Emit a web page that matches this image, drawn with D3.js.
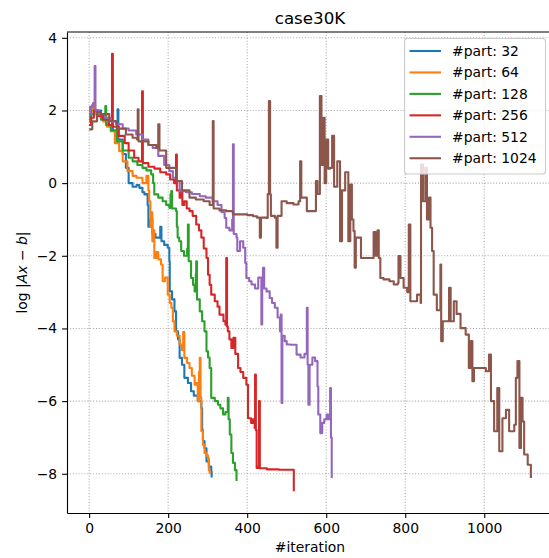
<!DOCTYPE html>
<html>
<head>
<meta charset="utf-8">
<script src="https://cdn.jsdelivr.net/npm/d3@7"></script>
<style>
  body { margin: 0; background: #fff; }
  text { font-family: "DejaVu Sans", sans-serif; fill: #000; }
</style>
</head>
<body>
<svg id="chart" width="549" height="558"></svg>
<script>
// Series labels and colours (matplotlib tab10)
var parts = ["32", "64", "128", "256", "512", "1024"];
var colors = ["#1f77b4", "#ff7f0e", "#2ca02c", "#d62728", "#9467bd", "#8c564b"];

var xTicks = [0, 200, 400, 600, 800, 1000];
var yTicks = [-8, -6, -4, -2, 0, 2, 4];

// [iteration, log|Ax-b|]
var part32 = [[0,1.75],[3,2.1],[8,2.15],[12,1.9],[20,2.0],[30,1.75],[45,1.6],[60,1.45],[70,1.3],[72,2.03],[74,1.2],[85,0.8],[93,0.42],[100,0.0],[110,-0.1],[120,-0.05],[127,-0.13],[135,-0.25],[140,-0.31],[145,-0.3],[148,-0.6],[150,-1.2],[155,-1.0],[160,-1.4],[168,-1.5],[174,-1.5],[180,-1.2],[183,-1.6],[190,-1.7],[199,-1.78],[203,-2.15],[204,-2.98],[210,-3.2],[216,-3.53],[220,-4.08],[225,-4.3],[229,-4.81],[235,-5.0],[241,-5.36],[250,-5.5],[258,-5.73],[265,-5.85],[275,-6.0],[284,-6.19],[286,-6.8],[288,-7.1],[292,-7.3],[297,-7.66],[303,-7.8],[309,-7.93],[310,-8.1]];

var part64 = [[0,1.6],[5,2.0],[10,2.2],[15,1.9],[25,1.85],[35,1.7],[45,1.55],[55,1.43],[65,1.1],[76,0.88],[85,0.6],[97,0.33],[110,0.2],[120,0.15],[135,0.0],[145,0.2],[150,-0.2],[152,-0.5],[155,-1.2],[158,-0.8],[160,-1.6],[163,-1.3],[165,-2.06],[170,-1.9],[175,-2.1],[182,-2.24],[186,-2.7],[192,-2.6],[199,-3.07],[204,-3.3],[208,-3.43],[212,-3.8],[216,-4.08],[222,-4.2],[229,-4.44],[235,-4.6],[238,-4.1],[241,-4.81],[248,-4.95],[254,-5.09],[260,-5.3],[267,-5.55],[272,-5.5],[275,-6.0],[278,-5.2],[280,-4.81],[282,-5.9],[284,-6.83],[288,-7.2],[292,-7.43],[296,-7.5],[301,-7.57],[303,-7.9],[305,-8.0]];

var part128 = [[0,1.7],[5,1.9],[12,2.0],[20,1.85],[30,1.75],[41,2.12],[43,1.6],[55,1.45],[70,1.15],[85,0.9],[100,0.7],[110,0.6],[122,0.5],[135,0.42],[145,0.35],[157,0.24],[162,0.0],[165,-0.31],[175,-0.4],[186,-0.5],[195,-0.6],[203,-0.68],[206,-0.3],[208,-0.22],[210,-0.7],[220,-0.77],[222,-1.2],[224,-1.5],[228,-1.6],[233,-1.87],[240,-2.0],[248,-1.8],[250,-1.14],[252,-2.15],[258,-2.61],[263,-2.8],[267,-2.98],[270,-2.5],[271,-2.15],[273,-3.2],[280,-3.53],[286,-3.8],[292,-4.08],[297,-4.63],[301,-4.8],[305,-5.09],[309,-5.91],[318,-6.0],[326,-6.1],[332,-6.2],[339,-6.37],[345,-6.3],[351,-5.91],[353,-6.5],[356,-6.92],[360,-7.43],[364,-7.7],[369,-7.9],[373,-8.2]];

var part256 = [[0,1.6],[5,1.8],[12,2.0],[20,1.85],[35,1.75],[50,1.6],[57,1.6],[58,3.56],[60,1.55],[75,1.3],[90,1.1],[100,0.9],[114,0.7],[125,0.6],[133,0.6],[134,2.53],[136,0.55],[150,0.45],[165,0.4],[180,0.3],[195,0.24],[205,0.1],[215,0.0],[220,0.79],[222,-0.2],[229,-0.4],[233,-0.2],[236,-0.6],[241,-0.5],[247,-0.7],[254,-0.77],[262,-0.9],[271,-1.14],[278,-1.3],[284,-1.5],[290,-1.8],[297,-2.06],[301,-2.52],[305,-2.8],[309,-3.07],[318,-3.25],[325,-3.4],[330,-3.62],[340,-3.8],[345,-3.9],[347,-2.06],[349,-3.95],[351,-4.08],[355,-4.3],[360,-4.54],[365,-4.26],[370,-4.7],[377,-5.09],[383,-5.2],[390,-5.36],[398,-5.55],[402,-6.47],[410,-6.6],[415,-6.5],[419,-6.74],[420,-5.27],[422,-6.8],[424,-7.84],[428,-7.8],[430,-6.0],[432,-7.85],[450,-7.88],[480,-7.89],[517,-7.89],[518,-8.48]];

var part512 = [[0,1.9],[5,2.1],[10,2.2],[14,3.22],[16,2.0],[25,1.9],[40,1.8],[55,1.7],[68,1.62],[85,1.5],[100,1.45],[119,1.34],[135,1.2],[150,1.05],[161,0.97],[175,0.75],[190,0.5],[203,0.33],[212,0.15],[220,0.06],[229,-0.22],[245,-0.25],[260,-0.3],[280,-0.36],[295,-0.4],[313,-0.5],[325,-0.6],[335,-0.8],[343,-0.96],[347,-1.23],[355,-1.3],[362,-1.0],[364,1.07],[366,-1.4],[373,-1.5],[375,-1.87],[382,-1.6],[390,-1.78],[395,-2.2],[398,-2.61],[405,-2.7],[411,-2.79],[420,-2.9],[428,-2.6],[436,-3.89],[438,-2.7],[440,-2.33],[443,-2.9],[449,-2.98],[457,-3.16],[463,-3.3],[470,-3.43],[477,-3.7],[483,-4.08],[485,-3.62],[487,-6.05],[489,-4.2],[495,-4.35],[500,-4.44],[510,-4.45],[525,-4.72],[535,-4.8],[545,-4.7],[551,-3.43],[553,-5.0],[555,-6.1],[558,-5.0],[565,-4.8],[572,-4.9],[578,-5.6],[580,-6.37],[585,-6.88],[590,-6.6],[595,-6.5],[601,-6.37],[605,-6.5],[610,-5.64],[612,-7.0],[614,-8.12]];

var part1024 = [[0,1.48],[8,1.7],[20,1.95],[30,1.9],[51,1.71],[70,1.5],[93,1.34],[110,1.25],[121,1.2],[123,2.03],[125,1.15],[150,1.05],[170,0.97],[175,1.62],[178,0.9],[195,0.42],[220,0.06],[235,-0.2],[254,-0.4],[270,-0.45],[290,-0.5],[305,-0.6],[313,1.71],[315,-0.7],[330,-0.75],[347,-0.77],[364,-0.86],[381,-0.86],[400,-0.88],[415,-0.91],[425,-0.95],[432,-1.5],[435,-0.95],[449,-0.96],[452,-0.3],[455,2.26],[458,-0.31],[460,-0.9],[470,-0.95],[474,-1.78],[477,-0.9],[487,-0.5],[500,-0.55],[517,-0.59],[530,-0.5],[534,0.6],[537,-0.4],[551,-0.77],[568,-0.77],[574,0.06],[578,-0.3],[584,2.4],[588,0.5],[592,1.8],[596,0.0],[600,1.2],[605,0.4],[610,0.42],[615,1.3],[620,-0.1],[628,0.6],[635,-1.6],[640,-0.2],[648,0.3],[656,-1.6],[661,-0.04],[665,-1.0],[669,-1.32],[672,-2.33],[675,-1.5],[686,-1.5],[688,-2.06],[700,-2.06],[716,-2.06],[720,-1.35],[725,-2.0],[730,-1.3],[733,-2.06],[737,-2.61],[745,-2.65],[760,-2.7],[771,-2.79],[781,-2.75],[783,-2.01],[788,-2.61],[796,-2.88],[805,-3.0],[809,-1.14],[813,-3.25],[830,-3.07],[839,-3.3],[840,0.51],[845,-0.5],[851,0.42],[855,-1.0],[860,-0.4],[864,-1.23],[868,-1.87],[872,-3.07],[880,-3.5],[889,-2.24],[891,-4.35],[895,-3.8],[906,-3.8],[911,-2.88],[915,-3.8],[923,-3.25],[930,-3.6],[940,-3.99],[953,-4.17],[961,-5.09],[966,-4.35],[970,-5.45],[974,-5.09],[991,-5.09],[1004,-5.18],[1012,-4.72],[1017,-6.0],[1025,-6.83],[1033,-5.64],[1038,-7.38],[1046,-6.47],[1055,-6.24],[1063,-6.83],[1076,-6.65],[1080,-5.36],[1084,-4.9],[1089,-7.29],[1093,-5.91],[1097,-6.56],[1101,-7.47],[1110,-7.75],[1118,-8.12]];

var series = [part32, part64, part128, part256, part512, part1024];

// Layout (axes box runs past the right edge of the picture)
var margin = { left: 67, top: 32, right: 553, bottom: 513 };

var svg = d3.select("#chart");

var xScale = d3.scaleLinear().domain([-56, 1174]).range([margin.left, margin.right]);
var yScale = d3.scaleLinear().domain([-9.08, 4.16]).range([margin.bottom, margin.top]);

svg.append("defs").append("clipPath").attr("id", "plotclip")
  .append("rect")
  .attr("x", margin.left).attr("y", margin.top)
  .attr("width", margin.right - margin.left).attr("height", margin.bottom - margin.top);

// Grid
var grid = svg.append("g").attr("stroke", "#b0b0b0").attr("stroke-width", 1.1).attr("stroke-dasharray", "1.1,1.8");
xTicks.forEach(function (t) {
  grid.append("line").attr("x1", xScale(t)).attr("x2", xScale(t)).attr("y1", margin.top).attr("y2", margin.bottom);
});
yTicks.forEach(function (t) {
  grid.append("line").attr("x1", margin.left).attr("x2", margin.right).attr("y1", yScale(t)).attr("y2", yScale(t));
});

// Lines (residual stays flat until the next update, so draw as steps)
var line = d3.line()
  .x(function (d) { return xScale(d[0]); })
  .y(function (d) { return yScale(d[1]); })
  .curve(d3.curveStepAfter);

var plot = svg.append("g").attr("clip-path", "url(#plotclip)");
series.forEach(function (s, i) {
  plot.append("path")
    .attr("fill", "none")
    .attr("stroke", colors[i])
    .attr("stroke-width", 2.1)
    .attr("stroke-linejoin", "round")
    .attr("d", line(s));
});

// Axes
var fmt = function (d) { return d < 0 ? "\u2212" + Math.abs(d) : d; };

var xAxis = svg.append("g")
  .attr("transform", `translate(0,${margin.bottom})`)
  .call(d3.axisBottom(xScale).tickValues(xTicks).tickFormat(fmt).tickSize(4.9).tickPadding(4.9).tickSizeOuter(0));

var yAxis = svg.append("g")
  .attr("transform", `translate(${margin.left},0)`)
  .call(d3.axisLeft(yScale).tickValues(yTicks).tickFormat(fmt).tickSize(4.9).tickPadding(4.9).tickSizeOuter(0));

[xAxis, yAxis].forEach(function (ax) {
  ax.selectAll("text").style("font-family", "DejaVu Sans").style("font-size", "13.9px").attr("fill", "#000");
  ax.selectAll("line").attr("stroke", "#000").attr("stroke-width", 1.1);
  ax.select(".domain").attr("stroke", "#000").attr("stroke-width", 1.1);
});

// top spine
svg.append("line")
  .attr("x1", margin.left).attr("x2", margin.right)
  .attr("y1", margin.top).attr("y2", margin.top)
  .attr("stroke", "#000").attr("stroke-width", 1.1);

// Title and axis labels
svg.append("text")
  .attr("x", (margin.left + margin.right) / 2)
  .attr("y", 23.5)
  .attr("text-anchor", "middle")
  .style("font-size", "16.7px")
  .text("case30K");

svg.append("text")
  .attr("x", (margin.left + margin.right) / 2)
  .attr("y", 552)
  .attr("text-anchor", "middle")
  .style("font-size", "13.9px")
  .text("#iteration");

var ylab = svg.append("text")
  .attr("transform", `translate(27,${(margin.top + margin.bottom) / 2}) rotate(-90)`)
  .attr("text-anchor", "middle")
  .style("font-size", "13.9px");
ylab.append("tspan").text("log |");
ylab.append("tspan").style("font-style", "italic").text("Ax");
ylab.append("tspan").text(" \u2212 ");
ylab.append("tspan").style("font-style", "italic").text("b");
ylab.append("tspan").text("|");

// Legend
var legend = svg.append("g");
legend.append("rect")
  .attr("x", 404.5).attr("y", 38.5)
  .attr("width", 141).attr("height", 135.5)
  .attr("rx", 3)
  .attr("fill", "#fff").attr("fill-opacity", 0.8)
  .attr("stroke", "#cccccc").attr("stroke-width", 1.1);

parts.forEach(function (p, i) {
  var y = 51 + i * 21.45;
  legend.append("line")
    .attr("x1", 409.5).attr("x2", 441)
    .attr("y1", y).attr("y2", y)
    .attr("stroke", colors[i]).attr("stroke-width", 2.1);
  legend.append("text")
    .attr("x", 452).attr("y", y + 5)
    .style("font-size", "13.9px")
    .text("#part: " + p);
});
</script>
</body>
</html>
